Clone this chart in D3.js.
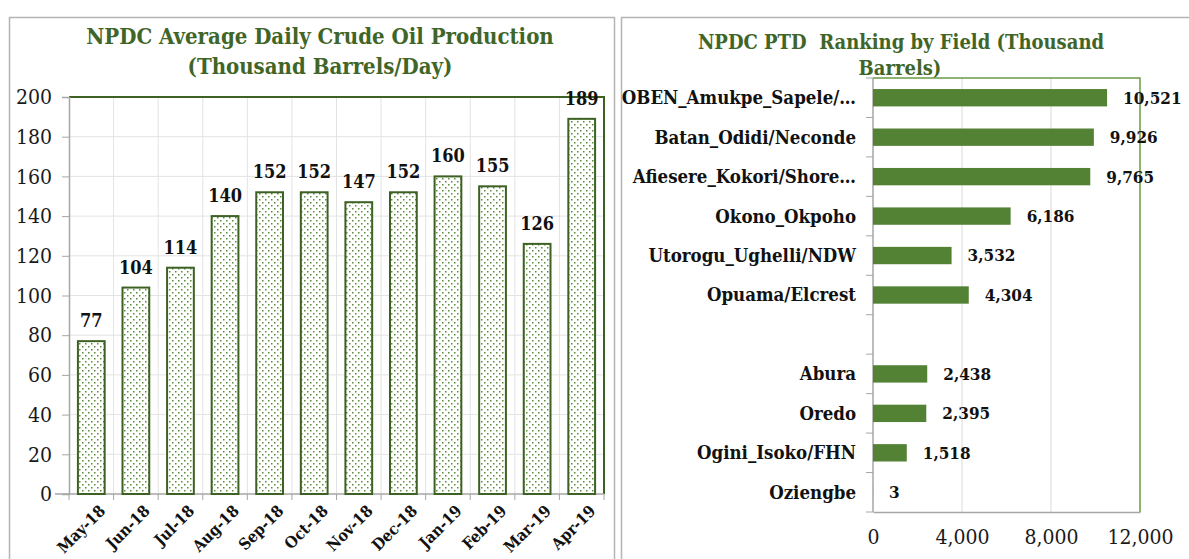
<!DOCTYPE html>
<html>
<head>
<meta charset="utf-8">
<script src="https://cdn.jsdelivr.net/npm/d3@7"></script>
<style>
  body { margin: 0; background: #fff; }
  svg { display: block; }
  text { font-family: "DejaVu Serif Condensed", "DejaVu Serif", serif; }
</style>
</head>
<body>
<svg width="1189" height="559"></svg>
<script>
// left chart data
const months = ["May-18", "Jun-18", "Jul-18", "Aug-18", "Sep-18", "Oct-18",
                "Nov-18", "Dec-18", "Jan-19", "Feb-19", "Mar-19", "Apr-19"];
const production = [77, 104, 114, 140, 152, 152, 147, 152, 160, 155, 126, 189];
const prodTicks = [0, 20, 40, 60, 80, 100, 120, 140, 160, 180, 200];

// right chart data ("" is the empty slot in the ranking)
const fields = ["OBEN_Amukpe_Sapele/…", "Batan_Odidi/Neconde", "Afiesere_Kokori/Shore…",
                "Okono_Okpoho", "Utorogu_Ughelli/NDW", "Opuama/Elcrest", "",
                "Abura", "Oredo", "Ogini_Isoko/FHN", "Oziengbe"];
const fieldVolumes = [10521, 9926, 9765, 6186, 3532, 4304, null, 2438, 2395, 1518, 3];
const volumeTicks = [0, 4000, 8000, 12000];

const titleGreen = "#3f6628";
const axisGray = "#a6a6a6";
const gridGray = "#e3e3e3";

const svg = d3.select("svg");

// dotted fill for the left bars
const pat = svg.append("defs").append("pattern")
   .attr("id", "dots")
   .attr("patternUnits", "userSpaceOnUse")
   .attr("width", 6).attr("height", 6);
pat.append("rect").attr("width", 6).attr("height", 6).attr("fill", "#fff");
pat.append("rect").attr("x", 1).attr("y", 1).attr("width", 1.5).attr("height", 1.5).attr("fill", "#5b8c3a");
pat.append("rect").attr("x", 4).attr("y", 4).attr("width", 1.5).attr("height", 1.5).attr("fill", "#5b8c3a");

// panel frames
svg.append("rect").attr("x", 9.5).attr("y", 17.5).attr("width", 605).attr("height", 600)
   .attr("fill", "none").attr("stroke", "#b5b5b5").attr("stroke-width", 1.5);
svg.append("rect").attr("x", 621.5).attr("y", 17.5).attr("width", 600).attr("height", 600)
   .attr("fill", "none").attr("stroke", "#b5b5b5").attr("stroke-width", 1.5);

// ---------- left: average daily production ----------
const xScale = d3.scaleBand()
   .domain(months)
   .range([69, 604])
   .paddingInner(0.4)
   .paddingOuter(0.2);
const yScale = d3.scaleLinear()
   .domain([0, 200])
   .range([494, 97]);

const left = svg.append("g");

left.append("text")
   .attr("x", 320).attr("y", 44)
   .attr("text-anchor", "middle")
   .attr("font-size", 22).attr("font-weight", "bold").attr("fill", titleGreen)
   .text("NPDC Average Daily Crude Oil Production");
left.append("text")
   .attr("x", 320).attr("y", 74)
   .attr("text-anchor", "middle")
   .attr("font-size", 22).attr("font-weight", "bold").attr("fill", titleGreen)
   .text("(Thousand Barrels/Day)");

// gridlines
left.selectAll(".hgrid")
   .data(prodTicks.slice(1, -1))
   .enter().append("line")
   .attr("x1", xScale.range()[0]).attr("x2", xScale.range()[1])
   .attr("y1", d => yScale(d)).attr("y2", d => yScale(d))
   .attr("stroke", gridGray);
const bounds = d3.range(months.length + 1).map(i => xScale.range()[0] + i * xScale.step());
left.selectAll(".vgrid")
   .data(bounds.slice(1, -1))
   .enter().append("line")
   .attr("x1", d => d).attr("x2", d => d)
   .attr("y1", yScale(0)).attr("y2", yScale(200))
   .attr("stroke", gridGray);

// green top/right frame of the plot
left.append("path")
   .attr("d", `M${xScale.range()[0]},${yScale(200)}H${xScale.range()[1]}V${yScale(0)}`)
   .attr("fill", "none").attr("stroke", "#3d6122").attr("stroke-width", 2);

// y axis
const yAxis = left.append("g")
   .attr("transform", `translate(${xScale.range()[0]},0)`)
   .call(d3.axisLeft(yScale).tickValues(prodTicks).tickSize(7).tickPadding(10));
yAxis.select(".domain").attr("stroke", axisGray).attr("stroke-width", 1.5);
yAxis.selectAll(".tick line").attr("stroke", axisGray);
yAxis.selectAll(".tick text")
   .attr("font-family", "'DejaVu Serif Condensed', serif")
   .attr("font-size", 21).attr("fill", "#1a1a1a");

// x axis
left.append("line")
   .attr("x1", xScale.range()[0] - 14).attr("x2", xScale.range()[1])
   .attr("y1", yScale(0)).attr("y2", yScale(0))
   .attr("stroke", axisGray).attr("stroke-width", 1.5);
left.selectAll(".xtick")
   .data(bounds)
   .enter().append("line")
   .attr("x1", d => d).attr("x2", d => d)
   .attr("y1", yScale(0)).attr("y2", yScale(0) + 6)
   .attr("stroke", axisGray);
left.selectAll(".xlabel")
   .data(months)
   .enter().append("text")
   .attr("transform", d => `translate(${xScale(d) + xScale.bandwidth() / 2 + 11},${yScale(0) + 14}) rotate(-45)`)
   .attr("text-anchor", "end")
   .attr("dy", "0.35em")
   .attr("font-size", 16).attr("font-weight", "bold").attr("fill", "#111")
   .text(d => d);

// bars
left.selectAll(".bar")
   .data(production)
   .enter().append("rect")
   .attr("x", (d, i) => xScale(months[i]))
   .attr("width", xScale.bandwidth())
   .attr("y", d => yScale(d))
   .attr("height", d => yScale(0) - yScale(d))
   .attr("fill", "url(#dots)")
   .attr("stroke", "#3d6122").attr("stroke-width", 2);

left.selectAll(".val")
   .data(production)
   .enter().append("text")
   .attr("x", (d, i) => xScale(months[i]) + xScale.bandwidth() / 2)
   .attr("y", d => yScale(d) - 14)
   .attr("text-anchor", "middle")
   .attr("font-size", 18).attr("font-weight", "bold").attr("fill", "#111")
   .text(d => d);

// ---------- right: ranking by field ----------
const yField = d3.scaleBand()
   .domain(fields)
   .range([78, 512])
   .paddingInner(0.56)
   .paddingOuter(0.28);
const xVol = d3.scaleLinear()
   .domain([0, 12000])
   .range([873, 1140]);

const right = svg.append("g");

right.append("text")
   .attr("x", 901).attr("y", 49)
   .attr("text-anchor", "middle")
   .attr("font-size", 20).attr("font-weight", "bold").attr("fill", titleGreen)
   .attr("xml:space", "preserve")
   .text("NPDC PTD  Ranking by Field (Thousand");
right.append("text")
   .attr("x", 900).attr("y", 75)
   .attr("text-anchor", "middle")
   .attr("font-size", 20).attr("font-weight", "bold").attr("fill", titleGreen)
   .text("Barrels)");

right.selectAll(".vgrid")
   .data(volumeTicks.slice(1, -1))
   .enter().append("line")
   .attr("x1", d => xVol(d)).attr("x2", d => xVol(d))
   .attr("y1", yField.range()[0]).attr("y2", yField.range()[1])
   .attr("stroke", "#d9d9d9");

right.append("path")
   .attr("d", `M${xVol(0)},${yField.range()[0]}H${xVol(12000)}V${yField.range()[1]}`)
   .attr("fill", "none").attr("stroke", "#6b9a45").attr("stroke-width", 1.5);

// category axis with ticks between bands
right.append("line")
   .attr("x1", xVol(0)).attr("x2", xVol(0))
   .attr("y1", yField.range()[0]).attr("y2", yField.range()[1])
   .attr("stroke", axisGray).attr("stroke-width", 1.5);
const fBounds = d3.range(fields.length + 1).map(i => yField.range()[0] + i * yField.step());
right.selectAll(".ytick")
   .data(fBounds)
   .enter().append("line")
   .attr("x1", xVol(0) - 7).attr("x2", xVol(0))
   .attr("y1", d => d).attr("y2", d => d)
   .attr("stroke", axisGray);
right.selectAll(".flabel")
   .data(fields)
   .enter().append("text")
   .attr("x", xVol(0) - 17)
   .attr("y", d => yField(d) + yField.bandwidth() / 2)
   .attr("dy", "0.35em")
   .attr("text-anchor", "end")
   .attr("font-size", 18.5).attr("font-weight", "bold").attr("fill", "#111")
   .text(d => d);

// value axis
const xAxis = right.append("g")
   .attr("transform", `translate(0,${yField.range()[1]})`)
   .call(d3.axisBottom(xVol).tickValues(volumeTicks).tickFormat(d3.format(",")).tickSize(0).tickPadding(17));
xAxis.select(".domain").attr("stroke", axisGray).attr("stroke-width", 1.5);
xAxis.selectAll(".tick text")
   .attr("font-family", "'DejaVu Serif Condensed', serif")
   .attr("font-size", 21).attr("fill", "#1a1a1a");

const rows = fields.map((f, i) => ({ field: f, value: fieldVolumes[i] }))
   .filter(d => d.value !== null);

right.selectAll(".hbar")
   .data(rows)
   .enter().append("rect")
   .attr("x", xVol(0))
   .attr("y", d => yField(d.field))
   .attr("width", d => xVol(d.value) - xVol(0))
   .attr("height", yField.bandwidth())
   .attr("fill", "#548235");

right.selectAll(".hval")
   .data(rows)
   .enter().append("text")
   .attr("x", d => xVol(d.value) + 16)
   .attr("y", d => yField(d.field) + yField.bandwidth() / 2)
   .attr("dy", "0.35em")
   .attr("font-size", 17).attr("font-weight", "bold").attr("fill", "#111")
   .text(d => d3.format(",")(d.value));
</script>
</body>
</html>
